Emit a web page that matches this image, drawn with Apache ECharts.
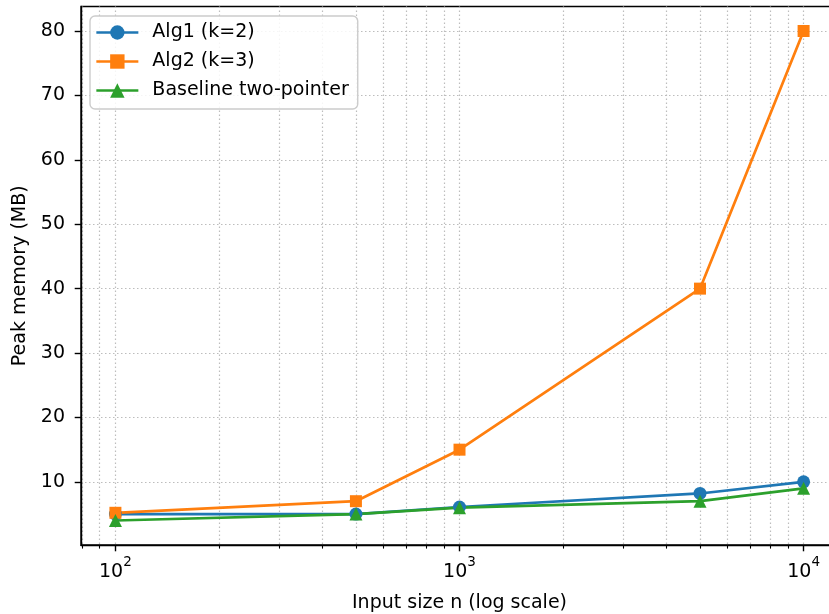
<!DOCTYPE html>
<html><head><meta charset="utf-8">
<script src="https://cdn.jsdelivr.net/npm/echarts@6/dist/echarts.min.js"></script>
<style>html,body{margin:0;padding:0;background:#fff}#c{width:829px;height:614px}</style>
</head><body><div id="c"></div>
<script>
const xValues = [100, 500, 1000, 5000, 10000];
const alg1 = [5.0, 5.0, 6.1, 8.2, 10.0];
const alg2 = [5.2, 7.0, 15.0, 40.0, 80.0];
const baseline = [4.0, 5.0, 6.0, 7.0, 9.0];
const seriesNames = ['Alg1 (k=2)', 'Alg2 (k=3)', 'Baseline two-pointer'];
const seriesColors = ['#1f77b4', '#ff7f0e', '#2ca02c'];
const seriesSymbols = ['circle', 'rect', 'triangle'];
const xMajorTicks = [100, 1000, 10000];
const xMinorTicks = [80, 90, 200, 300, 400, 500, 600, 700, 800, 900, 2000, 3000, 4000, 5000, 6000, 7000, 8000, 9000];
const yTicks = [10, 20, 30, 40, 50, 60, 70, 80];
const xRange = [79.43, 12589];
const yRange = [0.2, 83.8];
const xLabel = 'Input size n (log scale)';
const yLabel = 'Peak memory (MB)';

const FONT = 'DejaVu Sans';
const FS = 19;
const gridLine = { show: true, lineStyle: { color: '#bdbdbd', width: 1.2, type: [1.5, 2.5] } };

const chart = echarts.init(document.getElementById('c'), null, { renderer: 'canvas' });
const dataSets = [alg1, alg2, baseline];
chart.setOption({
  animation: false,
  backgroundColor: '#ffffff',
  grid: { left: 81, top: 6.5, width: 757, height: 538.5, outerBoundsMode: 'none', containLabel: false,
          show: true, borderColor: '#000', borderWidth: 1.4, backgroundColor: 'transparent' },
  xAxis: [{
    type: 'log', logBase: 10, min: xRange[0], max: xRange[1], position: 'bottom',
    name: xLabel, nameLocation: 'middle', nameGap: 49,
    nameTextStyle: { fontFamily: FONT, fontSize: FS, color: '#000' },
    axisLine: { show: true, onZero: false, lineStyle: { color: '#000', width: 1.4 } },
    axisTick: { show: true, length: 6.3, customValues: xMajorTicks, lineStyle: { color: '#000', width: 1.4 } },
    axisLabel: {
      customValues: xMajorTicks,
      margin: 10, color: '#000', fontFamily: FONT,
      formatter: v => '{b|10}{s|' + Math.round(Math.log10(v)) + '}',
      rich: {
        b: { fontFamily: FONT, fontSize: FS, color: '#000', lineHeight: 27, verticalAlign: 'bottom' },
        s: { fontFamily: FONT, fontSize: 13.5, color: '#000', lineHeight: 27, verticalAlign: 'top' }
      }
    },
    splitLine: gridLine
  }, {
    type: 'log', logBase: 10, min: xRange[0], max: xRange[1], position: 'bottom',
    axisLine: { show: false, onZero: false },
    axisTick: { show: true, length: 3.6, customValues: xMinorTicks, lineStyle: { color: '#000', width: 1.1 } },
    axisLabel: { show: false },
    splitLine: gridLine
  }],
  yAxis: {
    type: 'value', min: yRange[0], max: yRange[1],
    name: yLabel, nameLocation: 'middle', nameGap: 50,
    nameTextStyle: { fontFamily: FONT, fontSize: FS, color: '#000' },
    axisLine: { show: true, lineStyle: { color: '#000', width: 1.4 } },
    axisTick: { show: true, length: 6.3, customValues: yTicks, lineStyle: { color: '#000', width: 1.4 } },
    axisLabel: { customValues: yTicks, margin: 16, fontFamily: FONT, fontSize: FS, color: '#000' },
    splitLine: gridLine
  },
  legend: {
    orient: 'vertical', left: 90, top: 16,
    backgroundColor: 'rgba(255,255,255,0.85)', borderColor: '#cccccc', borderWidth: 1.4, borderRadius: 5,
    padding: [6, 9, 8, 5],
    itemWidth: 42, itemHeight: 18, itemGap: 8,
    lineStyle: { width: 2.7 },
    textStyle: { fontFamily: FONT, fontSize: FS, color: '#000', lineHeight: 21, padding: [0, 0, 0, 9] },
    data: seriesNames
  },
  series: seriesNames.map((name, i) => ({
    name, type: 'line', xAxisIndex: 0,
    data: xValues.map((x, j) => [x, dataSets[i][j]]),
    symbol: seriesSymbols[i], symbolSize: i === 1 ? 12 : 13, showAllSymbol: true,
    lineStyle: { color: seriesColors[i], width: 2.7 },
    itemStyle: { color: seriesColors[i] },
    emphasis: { disabled: true }
  }))
});
</script></body></html>
